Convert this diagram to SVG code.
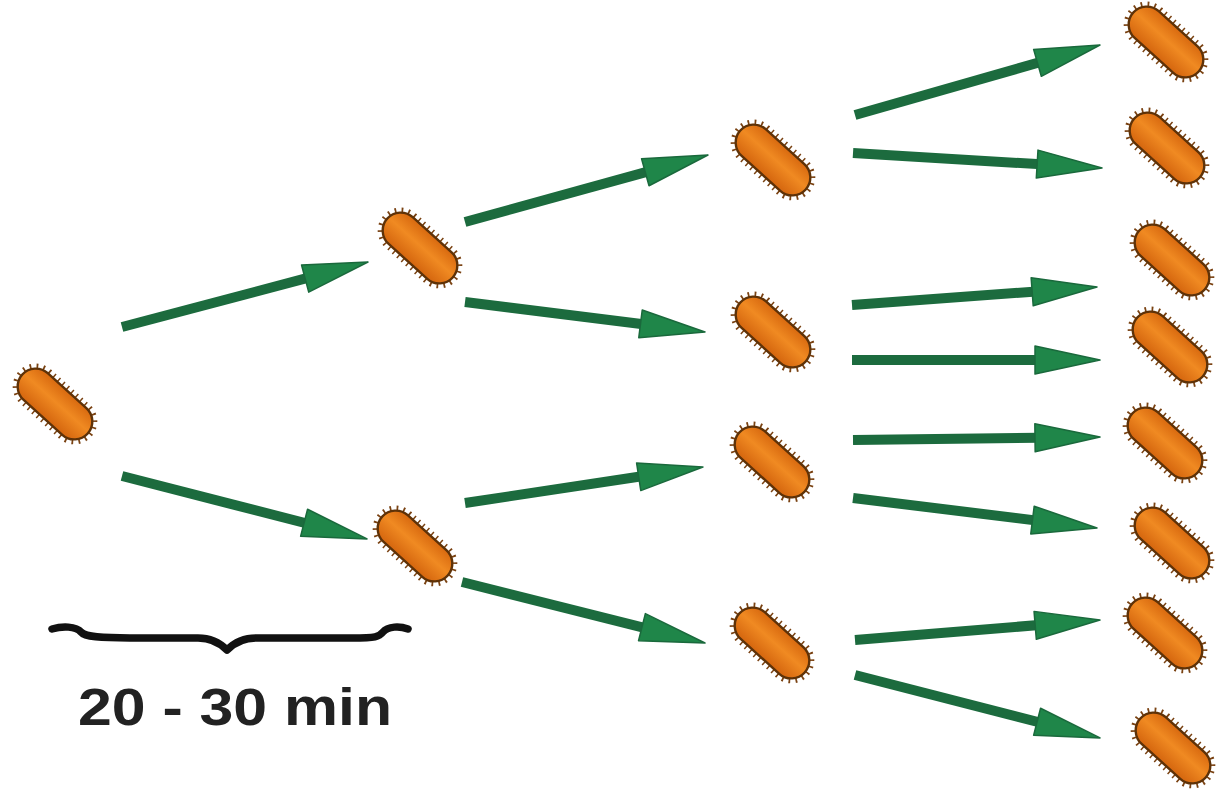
<svg xmlns="http://www.w3.org/2000/svg" xmlns:xlink="http://www.w3.org/1999/xlink" width="1218" height="793" viewBox="0 0 1218 793">
  <style>
    .arrow { stroke: #1c6b3e; stroke-width: 10; fill: none; marker-end: url(#head); }
    .brace { fill: none; stroke: #111; stroke-width: 7.5; stroke-linecap: round; stroke-linejoin: round; }
    .label { font-family: "Liberation Sans", Arial, sans-serif; font-weight: bold; font-size: 51px; fill: #222; }
  </style>
  <defs>
    <linearGradient id="body" x1="0" y1="0" x2="0" y2="1">
      <stop offset="0" stop-color="#d8690f"/>
      <stop offset="0.45" stop-color="#f08a22"/>
      <stop offset="1" stop-color="#d4650e"/>
    </linearGradient>
    <!-- rod-shaped bacterium with short hairs, drawn along the x axis -->
    <g id="cell">
      <rect x="-44" y="-18" width="88" height="36" rx="18" fill="none" stroke="#7a4212" stroke-width="10" stroke-dasharray="1.5 4.5"/>
      <rect x="-44" y="-18" width="88" height="36" rx="18" fill="url(#body)" stroke="#5e3208" stroke-width="2.4"/>
    </g>
    <marker id="head" markerUnits="userSpaceOnUse" markerWidth="70" markerHeight="32" refX="25" refY="14" orient="auto" overflow="visible">
      <path d="M0,0 L65,14 L0,28 Z" fill="#1f8649" stroke="#1a693c" stroke-width="1.5" stroke-linejoin="round"/>
    </marker>
  </defs>

  <rect width="1218" height="793" fill="#ffffff"/>

  <!-- connectors -->
  <g id="connectors">
    <line class="arrow" x1="122" y1="327" x2="329.3" y2="272.2"/>
    <line class="arrow" x1="122" y1="476" x2="328.3" y2="529.0"/>
    <line class="arrow" x1="465" y1="222" x2="669.4" y2="165.6"/>
    <line class="arrow" x1="465" y1="302" x2="665.3" y2="327.0"/>
    <line class="arrow" x1="465" y1="503" x2="663.4" y2="473.0"/>
    <line class="arrow" x1="462" y1="582" x2="666.2" y2="633.3"/>
    <line class="arrow" x1="855" y1="115" x2="1061.5" y2="56.0"/>
    <line class="arrow" x1="853" y1="153" x2="1062.1" y2="165.6"/>
    <line class="arrow" x1="852" y1="305" x2="1057.1" y2="289.9"/>
    <line class="arrow" x1="852" y1="360" x2="1060" y2="360"/>
    <line class="arrow" x1="853" y1="440" x2="1060" y2="437.5"/>
    <line class="arrow" x1="853" y1="498" x2="1057.3" y2="523.1"/>
    <line class="arrow" x1="855" y1="640" x2="1060.1" y2="623.3"/>
    <line class="arrow" x1="855" y1="675" x2="1061.3" y2="728.0"/>
  </g>

  <!-- generation 1 -->
  <g id="cell-g1"><use xlink:href="#cell" transform="translate(55,404) rotate(42)"/></g>
  <!-- generation 2 -->
  <g id="cell-g2a"><use xlink:href="#cell" transform="translate(420,248) rotate(42)"/></g>
  <g id="cell-g2b"><use xlink:href="#cell" transform="translate(415,546) rotate(42)"/></g>
  <!-- generation 3 -->
  <g id="cell-g3a"><use xlink:href="#cell" transform="translate(773,160) rotate(42)"/></g>
  <g id="cell-g3b"><use xlink:href="#cell" transform="translate(773,332) rotate(42)"/></g>
  <g id="cell-g3c"><use xlink:href="#cell" transform="translate(772,462) rotate(42)"/></g>
  <g id="cell-g3d"><use xlink:href="#cell" transform="translate(772,643) rotate(42)"/></g>
  <!-- generation 4 -->
  <g id="cell-g4a"><use xlink:href="#cell" transform="translate(1166,42) rotate(42)"/></g>
  <g id="cell-g4b"><use xlink:href="#cell" transform="translate(1167,148) rotate(42)"/></g>
  <g id="cell-g4c"><use xlink:href="#cell" transform="translate(1172,260) rotate(42)"/></g>
  <g id="cell-g4d"><use xlink:href="#cell" transform="translate(1170,347) rotate(42)"/></g>
  <g id="cell-g4e"><use xlink:href="#cell" transform="translate(1165,443) rotate(42)"/></g>
  <g id="cell-g4f"><use xlink:href="#cell" transform="translate(1172,543) rotate(42)"/></g>
  <g id="cell-g4g"><use xlink:href="#cell" transform="translate(1165,633) rotate(42)"/></g>
  <g id="cell-g4h"><use xlink:href="#cell" transform="translate(1173,748) rotate(42)"/></g>

  <!-- time scale -->
  <g id="timescale">
    <path class="brace" d="M52,629 C62,626 76,626 81,632 C85,637 100,638 130,638 L198,638 C213,638 221,644 227,650 C233,644 241,638 256,638 L352,638 C376,638 379,637 383,632 C388,626 400,626 408,629"/>
    <text class="label" x="78" y="725" textLength="314" lengthAdjust="spacingAndGlyphs">20 - 30 min</text>
  </g>
</svg>
